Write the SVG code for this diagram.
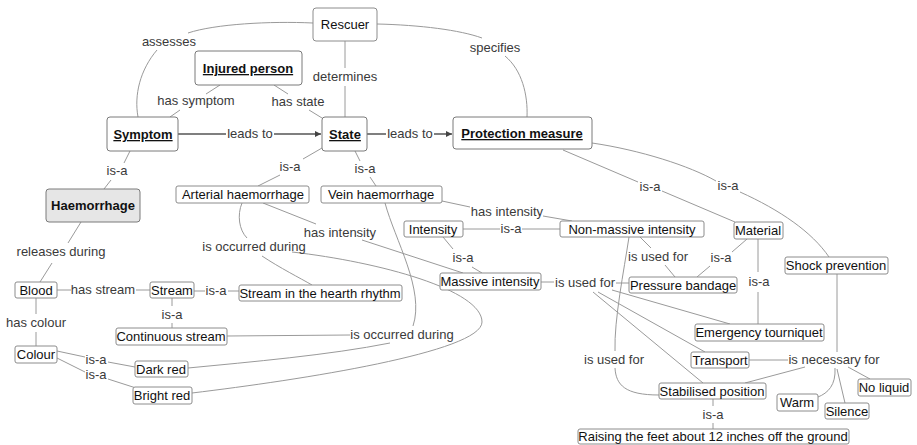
<svg xmlns="http://www.w3.org/2000/svg" width="917" height="445" viewBox="0 0 917 445">
  <defs>
    <marker id="arrow" viewBox="0 0 6 6" refX="6" refY="3" markerWidth="4" markerHeight="4" orient="auto">
      <path d="M0,0 L6,3 L0,6 z" fill="#444"/>
    </marker>
    <style>
      .node rect { fill: #fff; stroke: #8c8c8c; stroke-width: 1; }
      .node.main rect { stroke: #7a7a7a; }
      .node.grey rect { fill: #e6e6e6; }
      .node text { font-family: "Liberation Sans", Arial, sans-serif; font-size: 13px; fill: #111; text-anchor: middle; }
      .node.main text { font-weight: bold; }
      .node.ul text { text-decoration: underline; }
      .edges path { fill: none; stroke: #9a9a9a; stroke-width: 1; }
      .edges path.strong { stroke: #555; stroke-width: 1.5; }
      .labels text { font-family: "Liberation Sans", Arial, sans-serif; font-size: 13px; fill: #3a3a3a; text-anchor: middle; }
    </style>
  </defs>
  <rect width="917" height="445" fill="#fff"/>

  <g id="connectors" class="edges">
    <!-- Rescuer -->
    <path d="M313,23 C270,21 215,24 188,33"/>
    <path d="M157,50 C140,70 134,95 138,117"/>
    <path d="M345,41 V68"/>
    <path d="M345,86 V117"/>
    <path d="M377,24 C420,25 460,30 482,38"/>
    <path d="M505,56 C522,70 528,95 527,117"/>
    <!-- Injured person -->
    <path d="M220,85 L206,94"/>
    <path d="M180,110 L170,117"/>
    <path d="M274,85 L288,94"/>
    <path d="M309,110 L322,118"/>
    <!-- leads to -->
    <path class="strong" d="M178,134 H226"/>
    <path class="strong" d="M274,134 H321" marker-end="url(#arrow)"/>
    <path class="strong" d="M367,134 H386"/>
    <path class="strong" d="M434,134 H452" marker-end="url(#arrow)"/>
    <!-- is-a from Symptom / State -->
    <path d="M130,151 L124,163"/>
    <path d="M111,180 L104,189"/>
    <path d="M322,148 L303,159"/>
    <path d="M280,175 L258,186"/>
    <path d="M355,151 L360,161"/>
    <path d="M370,177 L376,186"/>
    <!-- Haemorrhage / Blood -->
    <path d="M81,222 L68,243"/>
    <path d="M52,263 L40,282"/>
    <path d="M57,290 H71"/>
    <path d="M136,290 H150"/>
    <path d="M194,291 H205"/>
    <path d="M228,291 H239"/>
    <path d="M172,298 V306"/>
    <path d="M172,323 V328"/>
    <path d="M36,298 V314"/>
    <path d="M36,332 V346"/>
    <path d="M57,351 L85,357"/>
    <path d="M108,362 L135,367"/>
    <path d="M57,358 L85,372"/>
    <path d="M108,379 L136,388"/>
    <!-- Arterial haemorrhage -->
    <path d="M263,203 L316,224"/>
    <path d="M362,240 L463,273"/>
    <path d="M242,203 C237,215 239,230 247,238"/>
    <path d="M262,256 C280,268 300,278 312,285"/>
    <path d="M292,252 C380,262 482,290 482,322 C482,352 300,380 192,393"/>
    <!-- Vein haemorrhage -->
    <path d="M385,203 C395,240 425,290 413,326"/>
    <path d="M227,336 L350,335"/>
    <path d="M390,343 C330,355 250,362 188,368"/>
    <path d="M442,201 L470,207"/>
    <path d="M543,216 L572,221"/>
    <!-- Intensity -->
    <path d="M463,229 H500"/>
    <path d="M522,229 H560"/>
    <path d="M443,237 L453,249"/>
    <path d="M472,267 L482,273"/>
    <!-- Massive intensity: is used for -->
    <path d="M541,282 H554"/>
    <path d="M616,283 H629"/>
    <path d="M612,290 L730,324"/>
    <path d="M598,292 L705,352"/>
    <path d="M593,292 L703,383"/>
    <!-- Non-massive intensity: is used for -->
    <path d="M640,237 L651,248"/>
    <path d="M665,265 L675,277"/>
    <path d="M629,237 C624,270 614,320 615,351"/>
    <path d="M615,368 C616,385 625,395 659,395"/>
    <!-- Protection measure -->
    <path d="M563,150 L638,182"/>
    <path d="M662,191 L735,222"/>
    <path d="M592,143 C640,150 690,166 716,181"/>
    <path d="M740,192 C780,210 812,232 829,257"/>
    <!-- Material -->
    <path d="M747,239 L732,252"/>
    <path d="M710,266 L697,277"/>
    <path d="M758,239 V272"/>
    <path d="M758,292 V324"/>
    <!-- is necessary for -->
    <path d="M837,274 V352"/>
    <path d="M749,360 H788"/>
    <path d="M805,367 L745,383"/>
    <path d="M835,368 C836,385 828,393 818,397"/>
    <path d="M837,369 L845,403"/>
    <path d="M848,367 L870,379"/>
    <!-- Stabilised position -->
    <path d="M713,399 V406"/>
    <path d="M713,423 V429"/>
  </g>

  <g id="link-labels" class="labels">
    <text x="169" y="46">assesses</text>
    <text x="345" y="81">determines</text>
    <text x="495" y="52">specifies</text>
    <text x="196" y="105">has symptom</text>
    <text x="298" y="106">has state</text>
    <text x="250" y="138">leads to</text>
    <text x="410" y="138">leads to</text>
    <text x="117" y="175">is-a</text>
    <text x="290" y="171">is-a</text>
    <text x="365" y="173">is-a</text>
    <text x="61" y="256">releases during</text>
    <text x="103" y="294">has stream</text>
    <text x="216" y="295">is-a</text>
    <text x="172" y="319">is-a</text>
    <text x="36" y="327">has colour</text>
    <text x="96" y="364" font-size="12">is-a</text>
    <text x="96" y="379" font-size="12">is-a</text>
    <text x="340" y="237">has intensity</text>
    <text x="254" y="251">is occurred during</text>
    <text x="402" y="339">is occurred during</text>
    <text x="507" y="216">has intensity</text>
    <text x="511" y="233">is-a</text>
    <text x="463" y="262">is-a</text>
    <text x="585" y="287">is used for</text>
    <text x="658" y="261">is used for</text>
    <text x="614" y="364">is used for</text>
    <text x="650" y="191">is-a</text>
    <text x="728" y="190">is-a</text>
    <text x="721" y="262">is-a</text>
    <text x="759" y="286">is-a</text>
    <text x="834" y="364">is necessary for</text>
    <text x="713" y="419">is-a</text>
  </g>

  <g id="rescuer" class="node"><rect x="313" y="8" width="64" height="33" rx="3"/><text x="345" y="29">Rescuer</text></g>
  <g id="injured-person" class="node main ul"><rect x="195" y="51" width="107" height="34" rx="3"/><text x="248" y="73">Injured person</text></g>
  <g id="symptom" class="node main ul"><rect x="107" y="117" width="71" height="34" rx="3"/><text x="143" y="139">Symptom</text></g>
  <g id="state" class="node main ul"><rect x="322" y="117" width="45" height="34" rx="3"/><text x="345" y="139">State</text></g>
  <g id="protection-measure" class="node main ul"><rect x="453" y="117" width="139" height="32" rx="3"/><text x="522" y="138">Protection measure</text></g>
  <g id="haemorrhage" class="node main grey"><rect x="46" y="189" width="94" height="33" rx="3"/><text x="93" y="210">Haemorrhage</text></g>
  <g id="arterial-haemorrhage" class="node"><rect x="176" y="186" width="133" height="17" rx="2"/><text x="243" y="199">Arterial haemorrhage</text></g>
  <g id="vein-haemorrhage" class="node"><rect x="321" y="186" width="121" height="17" rx="2"/><text x="381" y="199">Vein haemorrhage</text></g>
  <g id="intensity" class="node"><rect x="404" y="221" width="59" height="16" rx="2"/><text x="433" y="234">Intensity</text></g>
  <g id="non-massive-intensity" class="node"><rect x="560" y="221" width="144" height="16" rx="2"/><text x="632" y="234">Non-massive intensity</text></g>
  <g id="material" class="node"><rect x="734" y="222" width="49" height="17" rx="2"/><text x="758" y="235">Material</text></g>
  <g id="massive-intensity" class="node"><rect x="440" y="273" width="101" height="17" rx="2"/><text x="490" y="286">Massive intensity</text></g>
  <g id="pressure-bandage" class="node"><rect x="629" y="277" width="108" height="16" rx="2"/><text x="683" y="290">Pressure bandage</text></g>
  <g id="shock-prevention" class="node"><rect x="785" y="257" width="103" height="17" rx="2"/><text x="836" y="270">Shock prevention</text></g>
  <g id="blood" class="node"><rect x="15" y="282" width="42" height="16" rx="2"/><text x="36" y="295">Blood</text></g>
  <g id="stream" class="node"><rect x="150" y="282" width="44" height="16" rx="2"/><text x="172" y="295">Stream</text></g>
  <g id="stream-hearth-rhythm" class="node"><rect x="239" y="285" width="163" height="16" rx="2"/><text x="320" y="298">Stream in the hearth rhythm</text></g>
  <g id="continuous-stream" class="node"><rect x="116" y="328" width="111" height="17" rx="2"/><text x="171" y="341">Continuous stream</text></g>
  <g id="colour" class="node"><rect x="15" y="346" width="42" height="17" rx="2"/><text x="36" y="359">Colour</text></g>
  <g id="dark-red" class="node"><rect x="135" y="361" width="53" height="16" rx="2"/><text x="161" y="374">Dark red</text></g>
  <g id="bright-red" class="node"><rect x="133" y="387" width="59" height="17" rx="2"/><text x="162" y="400">Bright red</text></g>
  <g id="emergency-tourniquet" class="node"><rect x="695" y="324" width="129" height="17" rx="2"/><text x="759" y="337">Emergency tourniquet</text></g>
  <g id="transport" class="node"><rect x="691" y="352" width="58" height="16" rx="2"/><text x="720" y="365">Transport</text></g>
  <g id="stabilised-position" class="node"><rect x="659" y="383" width="107" height="16" rx="2"/><text x="712" y="396">Stabilised position</text></g>
  <g id="warm" class="node"><rect x="777" y="394" width="41" height="17" rx="2"/><text x="797" y="407">Warm</text></g>
  <g id="silence" class="node"><rect x="825" y="403" width="44" height="16" rx="2"/><text x="847" y="416">Silence</text></g>
  <g id="no-liquid" class="node"><rect x="858" y="379" width="53" height="17" rx="2"/><text x="884" y="392">No liquid</text></g>
  <g id="raising-feet" class="node"><rect x="578" y="429" width="271" height="15" rx="2"/><text x="713" y="441">Raising the feet about 12 inches off the ground</text></g>
</svg>
